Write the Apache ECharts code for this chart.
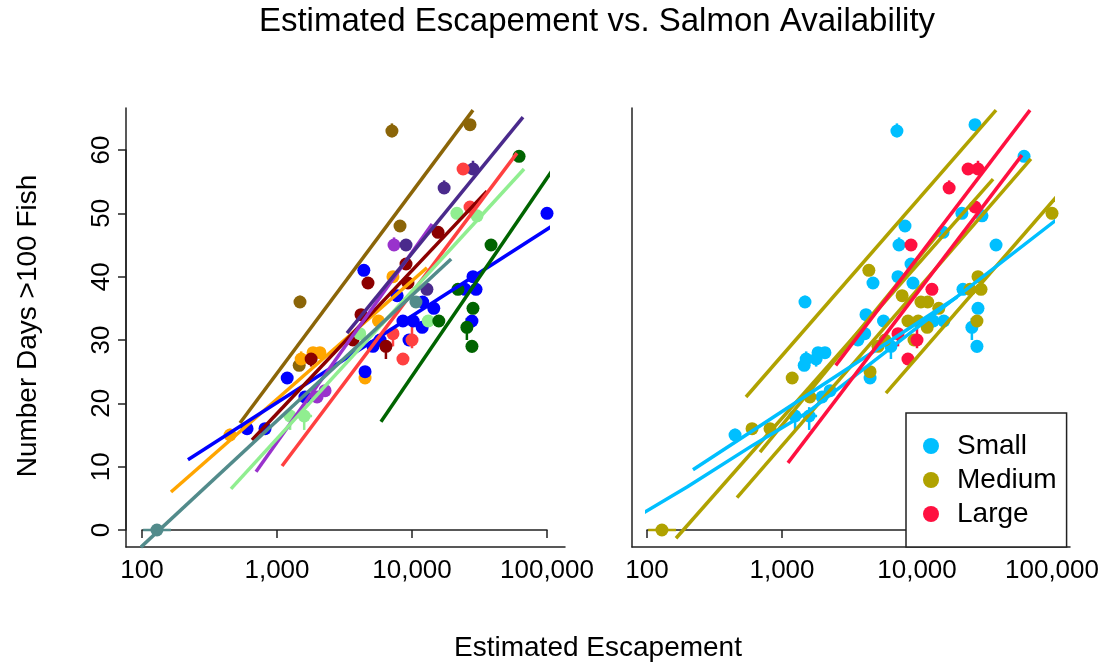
<!DOCTYPE html>
<html>
<head>
<meta charset="utf-8">
<title>Estimated Escapement vs. Salmon Availability</title>
<script src="https://cdn.jsdelivr.net/npm/echarts@6/dist/echarts.min.js"></script>
<style>
  html, body { margin: 0; padding: 0; background: #fff; }
  #chart { width: 1108px; height: 667px; }
</style>
</head>
<body>
<div id="chart"></div>
<script>
// [escapement, days] pairs for each stock
const stockA = [[1480, 36], [7100, 63], [26900, 64], [8150, 48], [1460, 26]];
const stockB = [[449, 15], [1510, 27], [1850, 28], [2080, 28], [7230, 40], [5650, 33], [4490, 24]];
const stockC = [[100000, 50], [4400, 41], [7760, 37], [12000, 36], [14500, 35], [28300, 40], [24700, 38],
  [29800, 38], [8570, 33], [10200, 33], [11900, 32], [27800, 33], [9500, 30], [4490, 25], [5140, 29],
  [5800, 30], [1190, 24], [600, 16], [815, 16], [1610, 21]];
const stockD = [[4720, 39], [9030, 42], [15600, 47], [9330, 39], [6410, 29], [4190, 34], [3650, 30], [1790, 27]];
const stockE = [[7360, 45], [1980, 21], [2270, 22]];
const stockF = [[28300, 57], [17300, 54], [9030, 45], [12900, 38]];
const stockG = [[23900, 57], [26900, 51], [7230, 31], [10000, 30], [8570, 27]];
const stockH = [[21500, 50], [30300, 49.6], [13200, 33], [4100, 31], [1250, 18], [1590, 18]];
const stockI = [[62100, 59], [38500, 45], [21900, 38], [15800, 33], [28300, 35], [25500, 32], [27800, 29]];
const stockJ = [[129, 0], [10700, 36]];
const stocks = [stockA, stockB, stockC, stockD, stockE, stockF, stockG, stockH, stockI, stockJ];

// size class of each stock, same order
const stockSize = ['Small', 'Small', 'Medium', 'Small', 'Small', 'Large', 'Large', 'Small', 'Small', 'Medium'];
const sizeClasses = ['Small', 'Medium', 'Large'];

// fitted line of each stock (left panel), start and end
const stockLines = [
  [[532, 16.9], [28300, 66.3]],
  [[164, 6.0], [12900, 41.4]],
  [[219, 11.1], [135900, 49.3]],
  [[653, 14.2], [35900, 53.5]],
  [[699, 9.2], [14100, 48.3]],
  [[3300, 31.1], [66400, 65.2]],
  [[1090, 10.1], [59900, 59.5]],
  [[456, 6.5], [67600, 57.0]],
  [[5890, 17.1], [118600, 57.9]],
  [[98, -2.7], [19500, 42.8]]
];

// fitted lines of the right panel, by size class
const smallLines = [
  [[77, 1.6], [198, 6.8], [610, 13.4], [1530, 18.5], [131500, 50.4]],
  [[219, 9.5], [19800, 36.8]]
];
const mediumLines = [
  [[541, 21], [38500, 66.3]],
  [[5890, 21.6], [120600, 53.8]],
  [[164, -1.3], [36600, 55.4]],
  [[464, 5.1], [69800, 58.6]],
  [[687, 12.3], [14800, 47.1]]
];
const largeLines = [
  [[1107, 10.6], [59900, 59.2]],
  [[2500, 26], [68700, 66.3]]
];

// error bars: [stock, x, low, high] and [stock, low, high, y]
const vErr = [[0, 1480, 36, 37], [0, 7100, 62, 64.2], [5, 28300, 57, 58.3], [5, 17300, 54, 55.2],
  [4, 7360, 45, 46.2], [3, 6410, 27, 30], [3, 1790, 25.8, 27], [6, 7230, 29, 31], [6, 10000, 28.7, 32.8],
  [8, 25500, 30, 33.5], [8, 27800, 28, 29.8], [8, 62100, 59, 60], [1, 1510, 27, 28.2], [1, 449, 15, 16],
  [7, 1250, 15.8, 19], [7, 1590, 15.8, 19.4]];
const hErr = [[9, 102, 164, 0], [7, 1107, 1404, 18], [7, 1430, 1820, 18]];

const xTicks = [100, 1000, 10000, 100000];
const yTicks = [0, 10, 20, 30, 40, 50, 60];

const stockColors = ['#8B6508', '#FFA500', '#0000FF', '#8B0000', '#9932CC', '#4A2A8C', '#FF4040', '#90EE90', '#006400', '#528B8B'];
const sizeColors = { Small: '#00BFFF', Medium: '#B0A200', Large: '#FF1040' };
const font = '"Liberation Sans", Arial, sans-serif';

const chart = echarts.init(document.getElementById('chart'));

const frameAxis = {
  type: 'value', min: 0, max: 1,
  axisLine: { show: true, lineStyle: { color: '#222', width: 1.5 } },
  axisTick: { show: false }, axisLabel: { show: false }, splitLine: { show: false }
};

function xData (g) {
  return {
    gridIndex: g, type: 'log', logBase: 10, min: xTicks[0], max: xTicks[xTicks.length - 1], offset: 17,
    axisLine: { show: true, lineStyle: { color: '#222', width: 1.5 } },
    axisTick: { show: true, length: 8, lineStyle: { color: '#222', width: 1.5 } },
    axisLabel: {
      fontSize: 26, fontFamily: font, color: '#000', margin: 11,
      formatter: v => Math.round(v).toLocaleString('en-US')
    },
    splitLine: { show: false }
  };
}

function errSeries (panel, list, vertical) {
  return {
    type: 'custom', xAxisIndex: panel + 2, yAxisIndex: panel + 2, clip: false, silent: true,
    data: list,
    renderItem (params, api) {
      const s = api.value(0);
      const color = panel === 0 ? stockColors[s] : sizeColors[stockSize[s]];
      const a = vertical ? api.coord([api.value(1), api.value(2)]) : api.coord([api.value(1), api.value(3)]);
      const b = vertical ? api.coord([api.value(1), api.value(3)]) : api.coord([api.value(2), api.value(3)]);
      return { type: 'line', shape: { x1: a[0], y1: a[1], x2: b[0], y2: b[1] }, style: { stroke: color, lineWidth: 2.5 } };
    },
    encode: vertical ? { x: 1, y: 2 } : { x: 1, y: 3 }
  };
}

const series = [];
// left panel: points and line per stock
stocks.forEach((pts, i) => {
  series.push({
    name: 'stock' + (i + 1), type: 'scatter', xAxisIndex: 2, yAxisIndex: 2, clip: false,
    symbolSize: 13, itemStyle: { color: stockColors[i], opacity: 1 }, data: pts
  });
  series.push({
    name: 'fit' + (i + 1), type: 'line', xAxisIndex: 2, yAxisIndex: 2, clip: false,
    symbol: 'none', lineStyle: { color: stockColors[i], width: 3.5 }, data: stockLines[i]
  });
});
series.push(errSeries(0, vErr, true), errSeries(0, hErr, false));

// right panel: points by size class
sizeClasses.forEach(sz => {
  const pts = [];
  stocks.forEach((p, i) => { if (stockSize[i] === sz) pts.push(...p); });
  series.push({
    name: sz, type: 'scatter', xAxisIndex: 3, yAxisIndex: 3, clip: false,
    symbolSize: 13, itemStyle: { color: sizeColors[sz], opacity: 1 }, data: pts
  });
});
[['Medium', mediumLines], ['Small', smallLines], ['Large', largeLines]].forEach(([sz, lines]) => {
  lines.forEach((ln, k) => {
    series.push({
      name: sz + ' fit ' + k, type: 'line', xAxisIndex: 3, yAxisIndex: 3, clip: false,
      symbol: 'none', lineStyle: { color: sizeColors[sz], width: 3.5 }, data: ln
    });
  });
});
series.push(errSeries(1, vErr, true), errSeries(1, hErr, false));

chart.setOption({
  animation: false,
  backgroundColor: '#fff',
  textStyle: { fontFamily: font },
  grid: [
    { left: 126, top: 108, width: 439, height: 439 },
    { left: 632, top: 108, width: 438, height: 439 },
    { left: 142, top: 150, width: 405, height: 380 },
    { left: 647, top: 150, width: 405, height: 380 }
  ],
  xAxis: [
    Object.assign({ gridIndex: 0 }, frameAxis),
    Object.assign({ gridIndex: 1 }, frameAxis),
    xData(2),
    xData(3)
  ],
  yAxis: [
    Object.assign({ gridIndex: 0 }, frameAxis),
    Object.assign({ gridIndex: 1 }, frameAxis),
    {
      gridIndex: 2, type: 'value', min: yTicks[0], max: yTicks[yTicks.length - 1], interval: 10, offset: 16,
      axisLine: { show: true, lineStyle: { color: '#222', width: 1.5 } },
      axisTick: { show: true, length: 8, lineStyle: { color: '#222', width: 1.5 } },
      axisLabel: { fontSize: 26, fontFamily: font, color: '#000', rotate: 90, margin: 11 },
      splitLine: { show: false }
    },
    { gridIndex: 3, type: 'value', min: yTicks[0], max: yTicks[yTicks.length - 1], show: false }
  ],
  legend: {
    data: sizeClasses, left: 906, top: 413, orient: 'vertical', icon: 'circle',
    itemWidth: 16, itemHeight: 16, itemGap: 6, padding: [19, 10, 19, 17],
    backgroundColor: '#fff', borderColor: '#222', borderWidth: 1.5, borderRadius: 0,
    textStyle: { fontSize: 28, fontFamily: font, color: '#000', padding: [0, 0, 0, 13] },
    selectedMode: false
  },
  graphic: [
    { type: 'text', x: 597, y: 22, style: { text: 'Estimated Escapement vs. Salmon Availability', font: '33px ' + font, fill: '#000', textAlign: 'center', textVerticalAlign: 'middle' } },
    { type: 'text', x: 598, y: 648, style: { text: 'Estimated Escapement', font: '28px ' + font, fill: '#000', textAlign: 'center', textVerticalAlign: 'middle' } },
    { type: 'text', x: 28, y: 326, rotation: Math.PI / 2, style: { text: 'Number Days >100 Fish', font: '28px ' + font, fill: '#000', textAlign: 'center', textVerticalAlign: 'middle' } }
  ],
  series: series
});
</script>
</body>
</html>
